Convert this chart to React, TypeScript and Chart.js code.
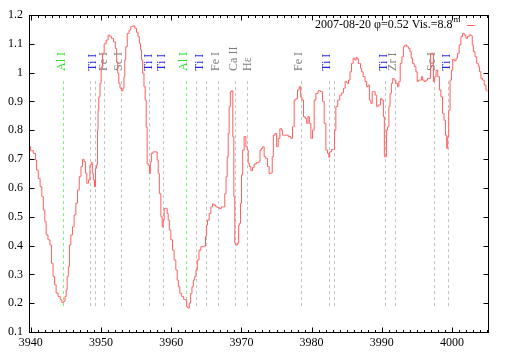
import React, { useEffect, useRef } from "react";
import { Chart, registerables } from "chart.js";

Chart.register(...registerables);

// ---- Spectrum data ----
const WAVELENGTH = [
  3939.80, 3940.13, 3940.60, 3940.74, 3940.93, 3941.21, 3941.45, 3941.70, 3941.88, 3942.12,
  3942.27, 3942.64, 3942.83, 3943.06, 3943.30, 3943.49, 3943.73, 3944.06, 3944.34, 3944.54,
  3944.77, 3944.97, 3945.11, 3945.26, 3945.44, 3945.58, 3945.83, 3946.05, 3946.30, 3946.54,
  3946.77, 3947.05, 3947.25, 3947.48, 3947.72, 3947.86, 3948.11, 3948.33, 3948.53, 3948.72,
  3948.82, 3949.00, 3949.15, 3949.29, 3949.47, 3949.55, 3949.62, 3949.76, 3949.96, 3950.10,
  3950.33, 3950.57, 3950.90, 3951.14, 3951.38, 3951.61, 3951.95, 3952.14, 3952.32, 3952.46,
  3952.61, 3952.81, 3953.03, 3953.23, 3953.32, 3953.46, 3953.60, 3953.89, 3954.13, 3954.37,
  3954.70, 3954.94, 3955.17, 3955.37, 3955.56, 3955.70, 3955.84, 3956.03, 3956.22, 3956.37,
  3956.51, 3956.65, 3956.84, 3956.98, 3957.08, 3957.27, 3957.55, 3957.93, 3958.08, 3958.22,
  3958.41, 3958.65, 3958.79, 3958.93, 3959.07, 3959.36, 3959.50, 3959.64, 3959.83, 3960.07,
  3960.30, 3960.54, 3960.78, 3960.93, 3961.11, 3961.35, 3961.64, 3961.92, 3962.11, 3962.29,
  3962.49, 3962.68, 3962.86, 3963.06, 3963.25, 3963.43, 3963.63, 3963.82, 3964.10, 3964.35,
  3964.82, 3964.96, 3965.06, 3965.29, 3965.53, 3965.77, 3966.00, 3966.24, 3966.48, 3966.71,
  3966.95, 3967.34, 3967.56, 3967.71, 3967.91, 3968.05, 3968.19, 3968.33, 3968.52, 3968.70,
  3968.85, 3968.99, 3969.13, 3969.33, 3969.56, 3969.66, 3969.80, 3969.94, 3970.09, 3970.27,
  3970.51, 3970.76, 3970.90, 3971.04, 3971.23, 3971.47, 3971.70, 3971.94, 3972.32, 3972.55,
  3972.75, 3972.93, 3973.12, 3973.36, 3973.60, 3973.83, 3974.07, 3974.32, 3974.46, 3974.64,
  3974.93, 3975.11, 3975.36, 3975.60, 3975.78, 3975.97, 3976.45, 3976.92, 3977.17, 3977.39,
  3977.64, 3977.88, 3978.11, 3978.35, 3978.53, 3978.73, 3978.96, 3979.20, 3979.39, 3979.59,
  3979.77, 3980.02, 3980.24, 3980.49, 3980.73, 3981.10, 3981.44, 3981.67, 3981.91, 3982.15,
  3982.38, 3982.52, 3982.62, 3983.01, 3983.19, 3983.33, 3983.58, 3983.86, 3984.15, 3984.43,
  3984.66, 3984.90, 3985.14, 3985.37, 3985.57, 3985.80, 3986.04, 3986.28, 3986.42, 3986.57,
  3986.75, 3986.90, 3987.04, 3987.22, 3987.46, 3987.75, 3987.93, 3988.13, 3988.32, 3988.56,
  3988.70, 3988.93, 3989.17, 3989.36, 3989.60, 3989.74, 3989.89, 3990.13, 3990.31, 3990.41,
  3990.60, 3990.70, 3990.93, 3991.07, 3991.27, 3991.45, 3991.64, 3991.88, 3992.12, 3992.35,
  3992.49, 3992.74, 3992.98, 3993.16, 3993.40, 3993.69, 3993.88, 3994.12, 3994.26, 3994.49,
  3994.73, 3994.97, 3995.11, 3995.30, 3995.54, 3995.73, 3995.91, 3996.15, 3996.40, 3996.62,
  3996.87, 3997.01, 3997.25, 3997.44, 3997.62, 3997.82, 3998.11, 3998.29, 3998.53, 3998.76,
  3998.96, 3999.15, 3999.33, 3999.43, 3999.62, 3999.82, 4000.00, 4000.19, 4000.47, 4000.67,
  4000.90, 4001.14, 4001.38, 4001.61, 4001.85, 4002.09, 4002.32, 4002.56, 4002.81, 4002.95,
  4003.13, 4003.42, 4003.60, 4003.85, 4003.99, 4004.23, 4004.46, 4004.70, 4004.94, 4005.05,
];

const FLUX = [
  0.743, 0.729, 0.720, 0.697, 0.662, 0.633, 0.604, 0.570, 0.523, 0.483,
  0.437, 0.420, 0.402, 0.339, 0.293, 0.264, 0.235, 0.223, 0.212, 0.202,
  0.206, 0.223, 0.246, 0.292, 0.327, 0.402, 0.437, 0.465, 0.506, 0.547,
  0.593, 0.639, 0.674, 0.699, 0.691, 0.651, 0.616, 0.628, 0.680, 0.688,
  0.651, 0.628, 0.604, 0.668, 0.680, 0.800, 0.870, 0.916, 0.963, 1.020,
  1.067, 1.100, 1.113, 1.130, 1.125, 1.119, 1.107, 1.084, 1.038, 0.998,
  0.963, 0.946, 0.937, 0.946, 0.986, 1.044, 1.090, 1.136, 1.148, 1.160,
  1.162, 1.154, 1.140, 1.125, 1.102, 1.079, 1.044, 0.998, 0.951, 0.905,
  0.810, 0.684, 0.678, 0.650, 0.690, 0.720, 0.725, 0.725, 0.697, 0.650,
  0.580, 0.500, 0.465, 0.488, 0.529, 0.529, 0.511, 0.488, 0.454, 0.420,
  0.384, 0.350, 0.315, 0.280, 0.257, 0.234, 0.223, 0.213, 0.211, 0.188,
  0.183, 0.200, 0.234, 0.257, 0.280, 0.292, 0.315, 0.350, 0.384, 0.396,
  0.398, 0.431, 0.471, 0.488, 0.511, 0.534, 0.544, 0.540, 0.534, 0.532,
  0.529, 0.534, 0.534, 0.580, 0.639, 0.708, 0.789, 0.882, 0.934, 0.937,
  0.778, 0.570, 0.408, 0.402, 0.408, 0.471, 0.477, 0.547, 0.645, 0.731,
  0.778, 0.743, 0.731, 0.685, 0.674, 0.660, 0.671, 0.683, 0.688, 0.690,
  0.731, 0.737, 0.743, 0.708, 0.702, 0.674, 0.650, 0.652, 0.708, 0.783,
  0.789, 0.743, 0.772, 0.806, 0.800, 0.783, 0.783, 0.778, 0.772, 0.812,
  0.905, 0.910, 0.940, 0.951, 0.916, 0.905, 0.847, 0.841, 0.824, 0.847,
  0.824, 0.772, 0.800, 0.905, 0.928, 0.937, 0.934, 0.900, 0.824, 0.731,
  0.720, 0.706, 0.725, 0.733, 0.733, 0.800, 0.882, 0.905, 0.922, 0.930,
  0.946, 0.969, 0.963, 0.974, 1.003, 1.032, 1.050, 1.044, 1.053, 1.048,
  1.032, 1.032, 1.015, 1.003, 0.986, 0.969, 0.951, 0.957, 0.905, 0.893,
  0.934, 0.934, 0.922, 0.882, 0.888, 0.888, 0.910, 0.905, 0.847, 0.708,
  0.708, 0.800, 0.812, 0.882, 0.928, 0.963, 0.980, 0.974, 0.963, 0.951,
  0.969, 1.032, 1.055, 1.090, 1.096, 1.090, 1.084, 1.073, 1.050, 1.032,
  1.021, 1.003, 0.969, 0.974, 0.974, 0.986, 0.974, 0.969, 0.974, 0.980,
  0.980, 1.067, 1.067, 0.969, 0.986, 1.009, 0.986, 0.940, 0.916, 0.859,
  0.835, 0.783, 0.737, 0.778, 0.870, 0.974, 1.009, 1.046, 1.041, 1.050,
  1.067, 1.096, 1.125, 1.136, 1.131, 1.119, 1.125, 1.131, 1.128, 1.096,
  1.073, 1.055, 1.032, 1.021, 1.003, 0.980, 0.974, 0.957, 0.940, 0.935,
];

// ---- Axes ----
const X_MIN = 3939.75;
const X_MAX = 4005.05;
const X_TICKS = [3940, 3950, 3960, 3970, 3980, 3990, 4000];
const X_MINOR_STEP = 1;
const Y_MIN = 0.1;
const Y_MAX = 1.2;
const Y_TICKS = [0.1, 0.2, 0.3, 0.4, 0.5, 0.6, 0.7, 0.8, 0.9, 1.0, 1.1, 1.2];

// ---- Identified line markers ----
const MARKER_WAVELENGTHS = [
  3944.54, 3948.39, 3949.19, 3950.47, 3952.88, 3956.88, 3958.80, 3962.18, 3963.49, 3964.91,
  3966.62, 3969.13, 3970.75, 3978.42, 3982.51, 3983.23, 3990.50, 3991.92, 3997.44, 3999.47,
];
const MARKER_KINDS = [
  "Al", "x", "x", "x", "x", "x", "x", "Al", "x", "x",
  "x", "x", "x", "x", "x", "x", "x", "x", "x", "x",
];
const MARKER_BOTTOM = 0.19;
const MARKER_TOP = 0.978;

const LABEL_TEXTS = [
  "Al I", "Ti I", "Fe I", "Sc I", "Ti I", "Ti I", "Al I", "Ti I", "Fe I", "Ca II",
  "Hε", "Fe I", "Ti I", "Ti I", "Zr I", "Sc I", "Ti I",
];
const LABEL_WAVELENGTHS = [
  3944.44, 3948.90, 3950.36, 3952.56, 3956.84, 3958.69, 3961.82, 3964.10, 3966.38, 3968.95,
  3970.94, 3978.25, 3982.15, 3990.31, 3991.59, 3997.11, 3999.25,
];
const LABEL_KINDS = [
  "Al", "Ti", "x", "x", "Ti", "Ti", "Al", "Ti", "x", "x",
  "x", "x", "Ti", "Ti", "x", "x", "Ti",
];
const LABEL_BASE = 1.006;

const LEGEND_TEXT = "2007-08-20 φ=0.52 Vis.=8.8";
const LEGEND_SUP = "m";

const SPECTRUM_COLOR = "rgb(255,95,95)";
const FONT = '"Liberation Serif", "Times New Roman", serif';

const labelColor = (k: string) =>
  k === "Al" ? "rgb(40,225,40)" : k === "Ti" ? "rgb(40,40,235)" : "rgb(125,125,125)";

const overlayPlugin = {
  id: "overlay",
  beforeDatasetsDraw(chart: any) {
    const { ctx, chartArea } = chart;
    const x = chart.scales.x;
    const y = chart.scales.y;
    ctx.save();
    ctx.beginPath();
    ctx.rect(chartArea.left, chartArea.top, chartArea.right - chartArea.left, chartArea.bottom - chartArea.top);
    ctx.clip();
    ctx.lineWidth = 1;
    ctx.setLineDash([3, 3]);
    MARKER_WAVELENGTHS.forEach((w, i) => {
      const px = Math.round(x.getPixelForValue(w)) + 0.5;
      ctx.strokeStyle = MARKER_KINDS[i] === "Al" ? "rgb(120,245,120)" : "rgb(195,195,195)";
      ctx.beginPath();
      ctx.moveTo(px, y.getPixelForValue(MARKER_BOTTOM));
      ctx.lineTo(px, y.getPixelForValue(MARKER_TOP));
      ctx.stroke();
    });
    ctx.setLineDash([]);
    ctx.font = "12px " + FONT;
    ctx.textAlign = "left";
    ctx.textBaseline = "middle";
    LABEL_TEXTS.forEach((t, i) => {
      const px = x.getPixelForValue(LABEL_WAVELENGTHS[i]);
      const py = y.getPixelForValue(LABEL_BASE);
      ctx.save();
      ctx.translate(px, py);
      ctx.rotate(-Math.PI / 2);
      ctx.fillStyle = labelColor(LABEL_KINDS[i]);
      ctx.fillText(t, 0, 0);
      ctx.restore();
    });
    ctx.restore();
  },
  afterDraw(chart: any) {
    const { ctx, chartArea } = chart;
    const x = chart.scales.x;
    const y = chart.scales.y;
    const L = Math.round(chartArea.left) + 0.5;
    const R = Math.round(chartArea.right) + 0.5;
    const T = Math.round(chartArea.top) + 0.5;
    const B = Math.round(chartArea.bottom) + 0.5;
    ctx.save();
    ctx.strokeStyle = "#000";
    ctx.lineWidth = 1;
    ctx.beginPath();
    for (let v = Math.ceil(X_MIN); v <= X_MAX; v += X_MINOR_STEP) {
      const px = Math.round(x.getPixelForValue(v)) + 0.5;
      const len = X_TICKS.includes(v) ? 5 : 2.5;
      ctx.moveTo(px, B);
      ctx.lineTo(px, B - len);
      ctx.moveTo(px, T);
      ctx.lineTo(px, T + len);
    }
    Y_TICKS.forEach((v) => {
      const py = Math.round(y.getPixelForValue(v)) + 0.5;
      ctx.moveTo(L, py);
      ctx.lineTo(L + 5, py);
      ctx.moveTo(R, py);
      ctx.lineTo(R - 5, py);
    });
    ctx.stroke();
    ctx.strokeRect(L, T, R - L, B - T);

    // legend
    const textRight = chartArea.right - 35;
    const ly = chartArea.top + 10;
    ctx.fillStyle = "#000";
    ctx.font = "12px " + FONT;
    ctx.textAlign = "right";
    ctx.textBaseline = "middle";
    ctx.fillText(LEGEND_TEXT, textRight, ly);
    ctx.font = "9px " + FONT;
    ctx.textAlign = "left";
    ctx.fillText(LEGEND_SUP, textRight + 1, ly - 5);
    ctx.strokeStyle = SPECTRUM_COLOR;
    ctx.beginPath();
    ctx.moveTo(chartArea.right - 20.5, Math.round(ly) + 0.5);
    ctx.lineTo(chartArea.right - 13, Math.round(ly) + 0.5);
    ctx.stroke();
    ctx.restore();
  },
};

export default function App() {
  const canvasRef = useRef<HTMLCanvasElement | null>(null);

  useEffect(() => {
    if (!canvasRef.current) return;
    const points = WAVELENGTH.map((w, i) => ({ x: w, y: FLUX[i] }));
    const chart = new Chart(canvasRef.current, {
      type: "line",
      data: {
        datasets: [
          {
            label: LEGEND_TEXT + LEGEND_SUP,
            data: points,
            borderColor: SPECTRUM_COLOR,
            borderWidth: 1,
            pointRadius: 0,
            fill: false,
            stepped: "middle",
          },
        ],
      },
      options: {
        responsive: false,
        animation: false,
        events: [],
        layout: { padding: { top: 15, right: 21.5, bottom: 0, left: 0 } },
        plugins: {
          legend: { display: false },
          tooltip: { enabled: false },
        },
        scales: {
          x: {
            type: "linear",
            min: X_MIN,
            max: X_MAX,
            afterBuildTicks: (s: any) => {
              s.ticks = X_TICKS.map((v) => ({ value: v }));
            },
            afterFit: (s: any) => {
              s.height = 24;
            },
            grid: { display: false, drawTicks: false },
            border: { display: false },
            ticks: {
              color: "#000",
              font: { family: FONT, size: 12 },
              padding: 4,
              maxRotation: 0,
              autoSkip: false,
              callback: (v: any) => String(v),
            },
          },
          y: {
            type: "linear",
            min: Y_MIN,
            max: Y_MAX,
            afterBuildTicks: (s: any) => {
              s.ticks = Y_TICKS.map((v) => ({ value: v }));
            },
            afterFit: (s: any) => {
              s.width = 29;
            },
            grid: { display: false, drawTicks: false },
            border: { display: false },
            ticks: {
              color: "#000",
              font: { family: FONT, size: 12 },
              padding: 6,
              autoSkip: false,
              callback: (v: any) => String(Number(Number(v).toFixed(1))),
            },
          },
        },
      },
      plugins: [overlayPlugin],
    });
    return () => chart.destroy();
  }, []);

  return (
    <div style={{ position: "fixed", left: 0, top: 0, width: 509, height: 356, background: "#fff" }}>
      <canvas ref={canvasRef} width={509} height={356} style={{ display: "block" }} />
    </div>
  );
}
